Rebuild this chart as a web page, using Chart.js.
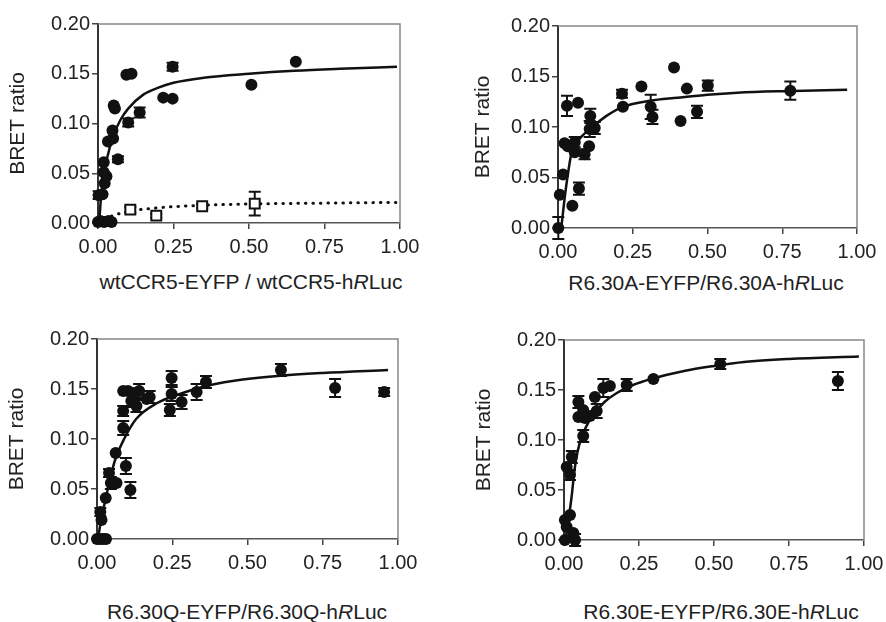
<!DOCTYPE html>
<html>
<head>
<meta charset="utf-8">
<script src="https://cdn.jsdelivr.net/npm/chart.js@4.4.0/dist/chart.umd.min.js"></script>
<style>
  html, body { margin: 0; padding: 0; background: #fff; }
  #wrap { position: relative; width: 886px; height: 622px; overflow: hidden;
          font-family: "Liberation Sans", Arial, sans-serif; color: #222; }
  canvas { position: absolute; }
  .xt { position: absolute; font-size: 21px; line-height: 24px; white-space: nowrap;
        transform: translateX(-50%); }
</style>
</head>
<body>
<div id="wrap">
  <canvas id="wt-canvas" width="443" height="270" style="left:0;top:0"></canvas>
  <canvas id="a-canvas" width="443" height="270" style="left:443px;top:0"></canvas>
  <canvas id="q-canvas" width="443" height="270" style="left:0;top:310px"></canvas>
  <canvas id="e-canvas" width="443" height="270" style="left:443px;top:310px"></canvas>

  <div class="xt" style="left:251px;top:270px">wtCCR5-EYFP / wtCCR5-h<i>R</i>Luc</div>
  <div class="xt" style="left:706px;top:271px">R6.30A-EYFP/R6.30A-h<i>R</i>Luc</div>
  <div class="xt" style="left:247px;top:600px">R6.30Q-EYFP/R6.30Q-h<i>R</i>Luc</div>
  <div class="xt" style="left:721px;top:600px">R6.30E-EYFP/R6.30E-h<i>R</i>Luc</div>
</div>

<script>
// tick values shared by all four panels
const xTicks = [0, 0.25, 0.5, 0.75, 1.0];
const yTicks = [0, 0.05, 0.10, 0.15, 0.20];

// --- wtCCR5 ---
const wtX   = [0.000, 0.008, 0.020, 0.035, 0.045, 0.002, 0.015, 0.022, 0.028, 0.019, 0.019, 0.033, 0.050, 0.048, 0.052, 0.056, 0.066, 0.094, 0.111, 0.100, 0.138, 0.216, 0.247, 0.247, 0.508, 0.655];
const wtY   = [0.001, 0.002, 0.001, 0.002, 0.001, 0.028, 0.029, 0.040, 0.047, 0.051, 0.061, 0.082, 0.085, 0.093, 0.118, 0.115, 0.064, 0.149, 0.150, 0.101, 0.111, 0.126, 0.125, 0.157, 0.139, 0.162];
const wtErr = [0, 0, 0, 0, 0, 0.004, 0, 0, 0, 0, 0, 0, 0, 0, 0, 0, 0.003, 0, 0, 0.004, 0.005, 0, 0, 0.004, 0, 0];
const wtFitX = [0.004, 0.01, 0.02, 0.03, 0.05, 0.075, 0.1, 0.15, 0.2, 0.25, 0.35, 0.5, 0.65, 0.8, 0.99];
const wtFitY = [0, 0.026, 0.049, 0.065, 0.087, 0.104, 0.115, 0.129, 0.136, 0.141, 0.146, 0.150, 0.153, 0.155, 0.157];

// open squares (control) and its dotted fit
const ctlX   = [0.107, 0.193, 0.345, 0.519];
const ctlY   = [0.0134, 0.0074, 0.0168, 0.0195];
const ctlErr = [0.003, 0.002, 0.002, 0.012];
const ctlFitX = [0.0, 0.02, 0.05, 0.1, 0.2, 0.35, 0.5, 0.75, 0.99];
const ctlFitY = [0.0, 0.0035, 0.0075, 0.0115, 0.0153, 0.0178, 0.0191, 0.0200, 0.0207];

// --- R6.30A ---
const aX   = [0.001, 0.006, 0.017, 0.022, 0.033, 0.030, 0.067, 0.048, 0.056, 0.056, 0.070, 0.089, 0.104, 0.106, 0.108, 0.123, 0.214, 0.217, 0.279, 0.310, 0.316, 0.388, 0.410, 0.431, 0.465, 0.501, 0.777];
const aY   = [0.000, 0.033, 0.053, 0.084, 0.081, 0.121, 0.124, 0.022, 0.085, 0.075, 0.039, 0.073, 0.081, 0.098, 0.111, 0.099, 0.133, 0.120, 0.140, 0.120, 0.110, 0.159, 0.106, 0.138, 0.115, 0.141, 0.136];
const aErr = [0.011, 0, 0, 0, 0, 0.010, 0, 0, 0.005, 0, 0.006, 0.005, 0, 0.008, 0.007, 0.006, 0.004, 0, 0, 0.012, 0.007, 0, 0, 0, 0.006, 0.005, 0.009];
const aFitX = [0.011, 0.02, 0.03, 0.045, 0.061, 0.08, 0.111, 0.162, 0.217, 0.307, 0.4, 0.5, 0.6, 0.75, 0.967];
const aFitY = [0, 0.024, 0.047, 0.074, 0.084, 0.091, 0.099, 0.111, 0.120, 0.126, 0.129, 0.132, 0.134, 0.1355, 0.1368];

// --- R6.30Q ---
const qX   = [0.000, 0.010, 0.020, 0.030, 0.011, 0.015, 0.029, 0.040, 0.046, 0.053, 0.065, 0.062, 0.087, 0.087, 0.096, 0.111, 0.087, 0.103, 0.120, 0.140, 0.114, 0.131, 0.175, 0.165, 0.248, 0.248, 0.242, 0.281, 0.331, 0.362, 0.611, 0.791, 0.954];
const qY   = [0.000, 0.000, 0.000, 0.000, 0.027, 0.019, 0.041, 0.066, 0.056, 0.055, 0.056, 0.086, 0.111, 0.128, 0.073, 0.049, 0.148, 0.148, 0.146, 0.148, 0.138, 0.133, 0.142, 0.140, 0.161, 0.145, 0.129, 0.137, 0.147, 0.157, 0.169, 0.151, 0.147];
const qErr = [0, 0, 0, 0, 0.004, 0, 0, 0.004, 0.006, 0, 0, 0, 0.007, 0.005, 0.008, 0.008, 0, 0, 0, 0.007, 0.006, 0.006, 0.006, 0, 0.007, 0.007, 0.006, 0.007, 0.008, 0.006, 0.006, 0.009, 0.004];
const qFitX = [0.003, 0.015, 0.03, 0.045, 0.06, 0.09, 0.13, 0.2, 0.275, 0.35, 0.45, 0.6, 0.75, 0.967];
const qFitY = [0, 0.021, 0.042, 0.062, 0.079, 0.100, 0.120, 0.136, 0.145, 0.152, 0.158, 0.163, 0.166, 0.169];

// --- R6.30E ---
const eX   = [0.003, 0.037, 0.031, 0.003, 0.020, 0.009, 0.009, 0.026, 0.020, 0.064, 0.048, 0.048, 0.064, 0.070, 0.087, 0.103, 0.109, 0.131, 0.153, 0.209, 0.298, 0.521, 0.913];
const eY   = [0.000, 0.000, 0.007, 0.020, 0.025, 0.013, 0.073, 0.083, 0.065, 0.104, 0.138, 0.123, 0.130, 0.122, 0.124, 0.143, 0.129, 0.152, 0.154, 0.155, 0.161, 0.176, 0.159];
const eErr = [0, 0.006, 0, 0, 0, 0, 0, 0.006, 0.005, 0.006, 0.006, 0, 0, 0, 0, 0, 0.007, 0.009, 0, 0.006, 0, 0.005, 0.009];
const eFitX = [0.005, 0.015, 0.026, 0.035, 0.045, 0.06, 0.08, 0.1, 0.135, 0.176, 0.23, 0.29, 0.4, 0.5, 0.6, 0.75, 0.983];
const eFitY = [0, 0.02, 0.045, 0.07, 0.088, 0.104, 0.117, 0.126, 0.138, 0.147, 0.155, 0.161, 0.169, 0.174, 0.178, 0.181, 0.1835];

const FONT = "'Liberation Sans', Arial, sans-serif";
const INK = "#111";

const pts = (xs, ys) => xs.map((x, i) => ({ x, y: ys[i] }));

// error bars (mean ± SEM) drawn through the chart's own scales
const errorBars = {
  id: "errorBars",
  beforeDatasetsDraw(chart) {
    const { ctx, scales: { x, y } } = chart;
    ctx.save();
    ctx.strokeStyle = INK;
    ctx.lineWidth = 2;
    chart.data.datasets.forEach((ds) => {
      if (!ds.errs) return;
      ds.data.forEach((p, i) => {
        const e = ds.errs[i];
        if (!e) return;
        const px = x.getPixelForValue(p.x);
        const lo = y.getPixelForValue(p.y - e);
        const hi = y.getPixelForValue(p.y + e);
        ctx.beginPath();
        ctx.moveTo(px, lo); ctx.lineTo(px, hi);
        ctx.moveTo(px - 6, lo); ctx.lineTo(px + 6, lo);
        ctx.moveTo(px - 6, hi); ctx.lineTo(px + 6, hi);
        ctx.stroke();
      });
    });
    ctx.restore();
  },
};

// top + right edges of the box (axes give left + bottom)
const frame = {
  id: "frame",
  beforeDatasetsDraw(chart) {
    const { ctx, chartArea: a } = chart;
    ctx.save();
    ctx.strokeStyle = "#888";
    ctx.lineWidth = 1.5;
    ctx.beginPath();
    ctx.moveTo(a.left, a.top); ctx.lineTo(a.right, a.top); ctx.lineTo(a.right, a.bottom);
    ctx.stroke();
    ctx.restore();
  },
};

const dots = (data, errs) => ({
  data, errs, clip: false,
  pointRadius: 6, pointHoverRadius: 6,
  backgroundColor: INK, borderWidth: 0,
});
const squares = (data, errs) => ({
  data, errs, clip: false,
  pointStyle: "rect", pointRadius: 7, pointHoverRadius: 7,
  backgroundColor: "#fff", borderColor: INK, borderWidth: 2,
});
const fit = (data, dash) => ({
  data, showLine: true, clip: false,
  pointRadius: 0, borderColor: INK, borderWidth: dash ? 3 : 2.5,
  borderDash: dash || [], borderCapStyle: dash ? "round" : "butt",
  cubicInterpolationMode: "monotone", fill: false,
});

// canvas-local plot box for each panel
function makeChart(id, box, datasets) {
  const ctx = document.getElementById(id);
  const W = ctx.width, H = ctx.height;
  new Chart(ctx, {
    type: "scatter",
    data: { datasets },
    plugins: [frame, errorBars],
    options: {
      responsive: false,
      animation: false,
      events: [],
      layout: { padding: { left: 0, top: box.t, right: W - box.r, bottom: 0 } },
      plugins: { legend: { display: false }, tooltip: { enabled: false } },
      scales: {
        x: {
          type: "linear", min: 0, max: 1,
          afterBuildTicks: (s) => { s.ticks = xTicks.map((v) => ({ value: v })); },
          afterFit: (s) => { s.height = H - box.b; s.paddingLeft = 0; s.paddingRight = 0; },
          grid: { drawOnChartArea: false, drawTicks: true, tickLength: 6, color: "#444", lineWidth: 1.5 },
          border: { display: true, color: "#555", width: 1.5 },
          ticks: { padding: 6, color: "#222", maxRotation: 0, autoSkip: false,
                   font: { family: FONT, size: 20 }, callback: (v) => Number(v).toFixed(2) },
        },
        y: {
          type: "linear", min: 0, max: 0.2,
          afterBuildTicks: (s) => { s.ticks = yTicks.map((v) => ({ value: v })); },
          afterFit: (s) => { s.width = box.l; s.paddingTop = 0; s.paddingBottom = 0; },
          grid: { drawOnChartArea: false, drawTicks: true, tickLength: 6, color: "#444", lineWidth: 1.5 },
          border: { display: true, color: "#333", width: 2 },
          ticks: { padding: 2, color: "#222", font: { family: FONT, size: 20 },
                   callback: (v) => Number(v).toFixed(2) },
          title: { display: true, text: "BRET ratio", color: "#222",
                   font: { family: FONT, size: 21 }, padding: { top: box.yt, bottom: 0 } },
        },
      },
    },
  });
}

makeChart("wt-canvas", { l: 98, t: 24, r: 400, b: 223, yt: 6 }, [
  dots(pts(wtX, wtY), wtErr),
  squares(pts(ctlX, ctlY), ctlErr),
  fit(pts(wtFitX, wtFitY)),
  fit(pts(ctlFitX, ctlFitY), [0.5, 7]),
]);

makeChart("a-canvas", { l: 115, t: 26, r: 414, b: 228, yt: 28 }, [
  dots(pts(aX, aY), aErr),
  fit(pts(aFitX, aFitY)),
]);

makeChart("q-canvas", { l: 97, t: 29, r: 398, b: 229, yt: 5 }, [
  dots(pts(qX, qY), qErr),
  fit(pts(qFitX, qFitY)),
]);

makeChart("e-canvas", { l: 121, t: 30, r: 421, b: 230, yt: 29 }, [
  dots(pts(eX, eY), eErr),
  fit(pts(eFitX, eFitY)),
]);
</script>
</body>
</html>
